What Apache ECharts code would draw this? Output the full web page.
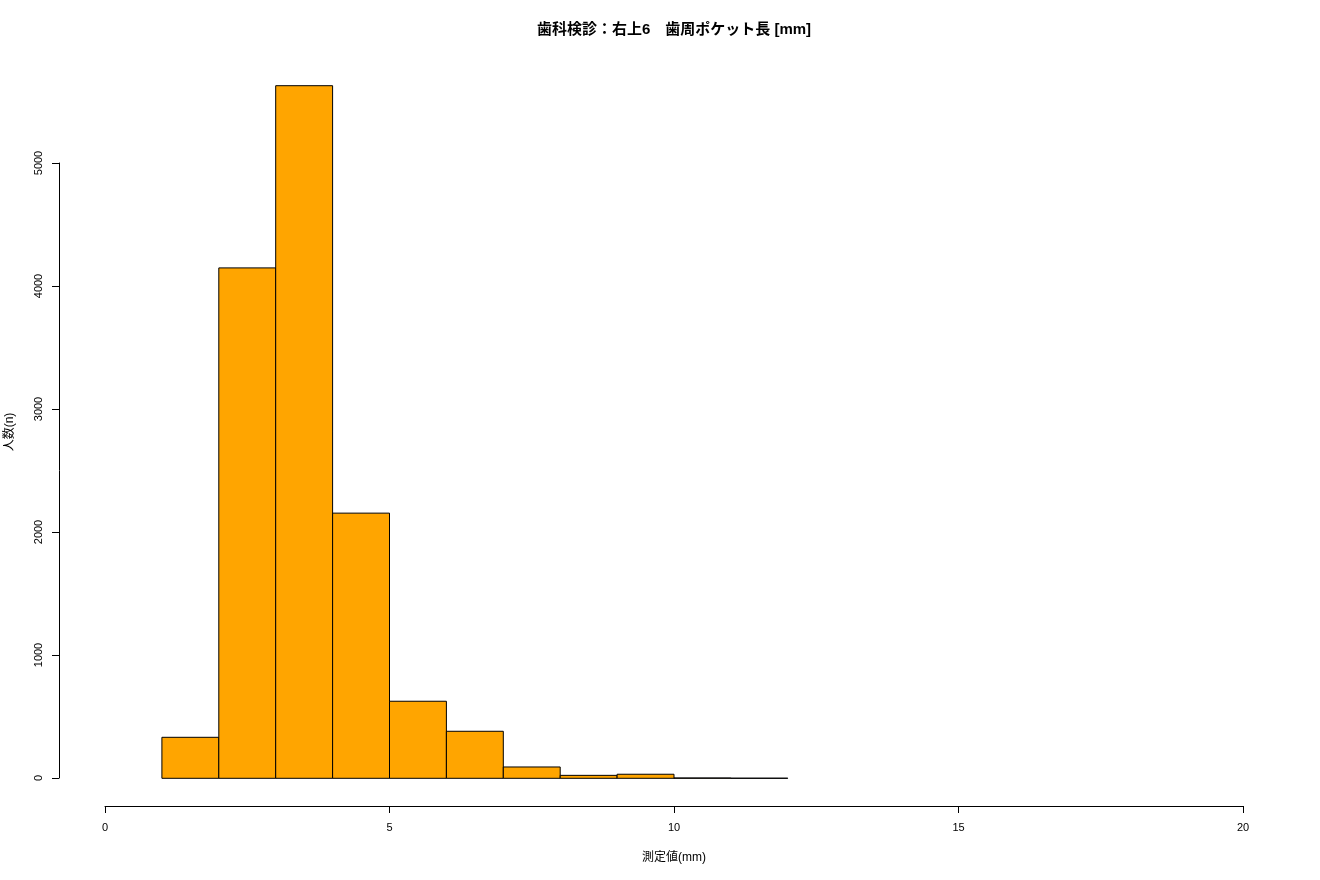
<!DOCTYPE html>
<html>
<head>
<meta charset="utf-8">
<script src="https://cdn.jsdelivr.net/npm/echarts@6/dist/echarts.min.js"></script>
<style>html,body{margin:0;padding:0;background:#fff;}#c{width:1320px;height:880px;}</style>
</head>
<body>
<div id="c"></div>
<script>
const binStarts = [1, 2, 3, 4, 5, 6, 7, 8, 9, 10, 11];
const binEnds   = [2, 3, 4, 5, 6, 7, 8, 9, 10, 11, 12];
const counts    = [333, 4146, 5626, 2154, 626, 382, 92, 24, 33, 3, 1];
const xTicks = [0, 5, 10, 15, 20];
const yTicks = [0, 1000, 2000, 3000, 4000, 5000];
const titleText = '歯科検診：右上6　歯周ポケット長 [mm]';
const xLabel = '測定値(mm)';
const yLabel = '人数(n)';

const FONT = '"Liberation Sans", "Noto Sans CJK JP", sans-serif';
const chart = echarts.init(document.getElementById('c'));
const data = binStarts.map((s, i) => [s, binEnds[i], counts[i]]);

chart.setOption({
  animation: false,
  backgroundColor: '#fff',
  graphic: [{
    type: 'text', x: 674, y: 30,
    style: { text: titleText, fill: '#000', font: 'bold 15px ' + FONT, textAlign: 'center', textVerticalAlign: 'middle' }
  }],
  grid: [
    { left: 105, right: 77, top: 58, bottom: 74, containLabel: false, outerBoundsMode: 'none' },
    { left: 59, width: 10, top: 163, bottom: 102, containLabel: false, outerBoundsMode: 'none' }
  ],
  xAxis: [
    {
      gridIndex: 0, type: 'value', min: xTicks[0], max: xTicks[xTicks.length - 1], interval: 5,
      position: 'bottom',
      axisLine: { show: true, onZero: false, lineStyle: { color: '#000', width: 1 } },
      axisTick: { show: true, length: 7, lineStyle: { color: '#000' } },
      axisLabel: { show: true, margin: 16, fontSize: 11, color: '#000', fontFamily: FONT },
      splitLine: { show: false },
      name: xLabel, nameLocation: 'middle', nameGap: 46,
      nameTextStyle: { fontSize: 12, color: '#000', fontFamily: FONT }
    },
    { gridIndex: 1, type: 'value', show: false, min: 0, max: 1 }
  ],
  yAxis: [
    {
      gridIndex: 0, type: 'value', min: -225, max: 5851,
      axisLine: { show: false }, axisTick: { show: false }, axisLabel: { show: false },
      splitLine: { show: false },
      name: yLabel, nameLocation: 'middle', nameGap: 89, nameRotate: 90,
      nameTextStyle: { fontSize: 12, color: '#000', fontFamily: FONT }
    },
    {
      gridIndex: 1, type: 'value', min: yTicks[0], max: yTicks[yTicks.length - 1], interval: 1000,
      position: 'left',
      axisLine: { show: true, lineStyle: { color: '#000', width: 1 } },
      axisTick: { show: true, length: 7, lineStyle: { color: '#000' } },
      axisLabel: { show: true, rotate: 90, margin: 15, fontSize: 11, color: '#000', fontFamily: FONT,
                   formatter: function (v) { return String(v); } },
      splitLine: { show: false }
    }
  ],
  series: [{
    type: 'custom',
    xAxisIndex: 0, yAxisIndex: 0,
    data: data,
    encode: { x: [0, 1], y: 2 },
    renderItem: function (params, api) {
      const p1 = api.coord([api.value(0), api.value(2)]);
      const p2 = api.coord([api.value(1), 0]);
      return {
        type: 'rect',
        shape: { x: p1[0], y: p1[1], width: p2[0] - p1[0], height: p2[1] - p1[1] },
        style: { fill: '#FFA500', stroke: '#000', lineWidth: 1 }
      };
    }
  }]
});
</script>
</body>
</html>
